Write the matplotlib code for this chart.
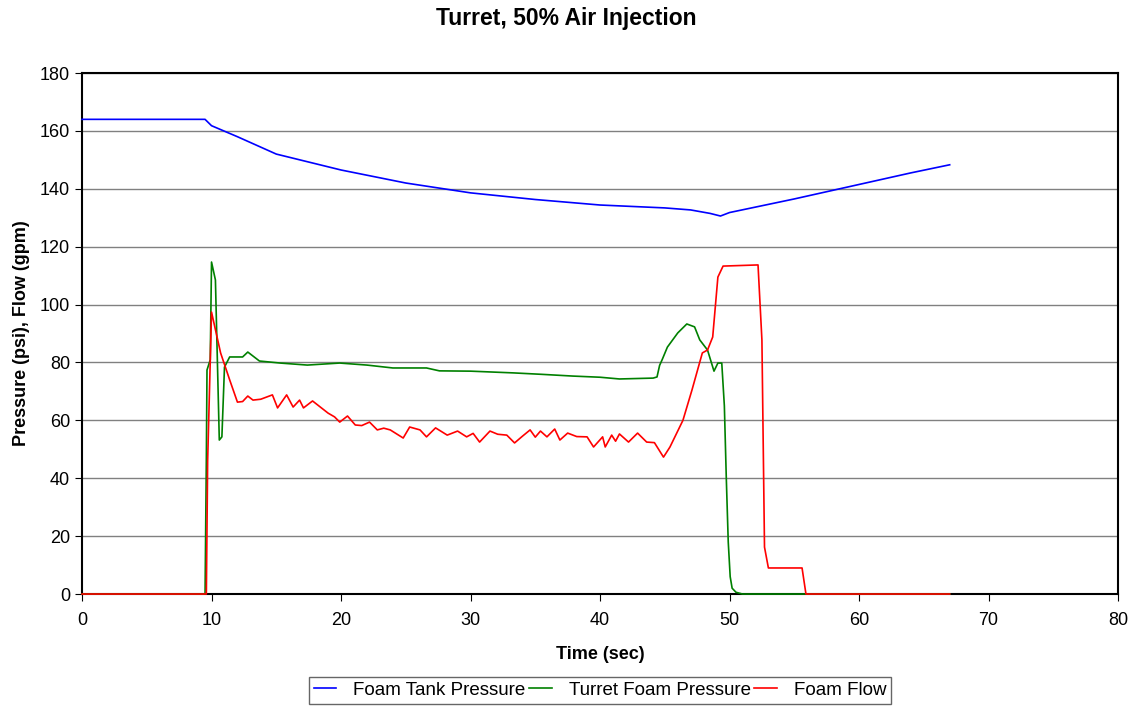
import matplotlib.pyplot as plt
from matplotlib import rcParams

rcParams.update({'font.family': ['Liberation Sans', 'DejaVu Sans'], 'font.size': 13})

# Foam Tank Pressure (psi)
tank_t = [0, 9.5, 10, 12, 15, 20, 25, 30, 35, 40, 45, 47, 48.5, 49.3, 50, 55, 60, 64, 67]
tank_p = [164, 164, 161.8, 158, 152, 146.5, 142, 138.6, 136.3, 134.4, 133.4, 132.7, 131.5, 130.6, 131.8, 136.5, 141.5, 145.5, 148.3]

# Turret Foam Pressure (psi)
turret_t = [0, 9.5, 9.6, 9.65, 9.9, 10.0, 10.3, 10.6, 10.8, 11.0, 11.4, 12.4, 12.8, 13.7, 15.3, 17.4, 19.9,
            22.0, 24.0, 26.6, 27.6, 30.0, 33.3, 35.5, 37.9, 40.0, 41.5, 44.1, 44.4, 44.6, 44.8, 45.2, 46.0,
            46.7, 47.3, 47.7, 48.3, 48.8, 49.1, 49.4, 49.6, 49.75, 49.9, 50.05, 50.2, 50.5, 51, 67]
turret_p = [0, 0, 47, 77.4, 80.9, 114.7, 108.5, 53.2, 54.3, 78.4, 81.9, 81.9, 83.6, 80.5, 79.8, 79.1, 79.8,
            79.1, 78.1, 78.1, 77.1, 77.0, 76.4, 75.9, 75.3, 74.9, 74.3, 74.6, 75, 79, 81, 85.3, 90.2,
            93.3, 92.3, 87.8, 84.3, 77, 79.8, 79.8, 65, 40, 18, 6, 2, 0.6, 0, 0]

# Foam Flow (gpm)
flow_t = [0, 9.6, 9.7, 10.0, 10.7, 11.4, 12.0, 12.4, 12.8, 13.2, 13.8, 14.7, 15.1, 15.8, 16.3, 16.8, 17.1,
          17.8, 18.4, 19.0, 19.5, 19.9, 20.5, 21.1, 21.6, 22.2, 22.8, 23.3, 23.8, 24.8, 25.3, 26.1, 26.6,
          27.3, 28.2, 29.0, 29.7, 30.2, 30.7, 31.5, 32.1, 32.8, 33.4, 34.0, 34.6, 35.0, 35.4, 35.9, 36.5,
          36.9, 37.5, 38.2, 39.0, 39.5, 40.2, 40.4, 40.9, 41.2, 41.5, 42.2, 42.9, 43.6, 44.2, 44.9, 45.4,
          46.4, 47.1, 47.9, 48.3, 48.7, 49.1, 49.5, 52.2, 52.5, 52.7, 53.0, 55.6, 55.9, 67]
flow_q = [0, 0, 46, 97.4, 83.3, 74, 66.3, 66.5, 68.4, 67, 67.3, 68.8, 64.3, 68.8, 64.6, 67, 64.3,
          66.7, 64.6, 62.5, 61.2, 59.4, 61.5, 58.4, 58.2, 59.4, 56.7, 57.3, 56.7, 53.9, 57.7, 56.7, 54.3,
          57.4, 54.9, 56.3, 54.3, 55.5, 52.5, 56.3, 55.2, 54.9, 52.2, 54.5, 56.7, 54.2, 56.3, 54.3, 57.0,
          53.2, 55.6, 54.4, 54.3, 50.8, 54.3, 50.8, 54.9, 52.8, 55.3, 52.5, 55.6, 52.5, 52.3, 47.3, 50.8,
          60, 70.5, 83.3, 84.3, 88.8, 109.5, 113.3, 113.7, 87.8, 16.2, 9, 9, 0, 0]

x_ticks = list(range(0, 81, 10))
y_ticks = list(range(0, 181, 20))

fig = plt.figure(figsize=(11.33, 7.07), dpi=100)
ax = fig.add_axes([0.0724, 0.1598, 0.9144, 0.7369])

ax.plot(tank_t, tank_p, color='#0000ff', lw=1.2, label='Foam Tank Pressure', zorder=3, clip_on=False)
ax.plot(turret_t, turret_p, color='#008000', lw=1.2, label='Turret Foam Pressure', zorder=3, clip_on=False)
ax.plot(flow_t, flow_q, color='#ff0000', lw=1.2, label='Foam Flow', zorder=3, clip_on=False)

ax.set_xlim(0, 80)
ax.set_ylim(0, 180)
ax.set_xticks(x_ticks)
ax.set_yticks(y_ticks)
ax.yaxis.grid(True, color='#808080', lw=1)
ax.set_axisbelow(True)
ax.tick_params(direction='out', length=5, labelsize=13, color='black')
ax.tick_params(axis='x', pad=8)
for s in ax.spines.values():
    s.set_linewidth(1.5)
    s.set_color('black')

ax.set_xlabel('Time (sec)', fontweight='bold', fontsize=13, labelpad=12)
ax.set_ylabel('Pressure (psi), Flow (gpm)', fontweight='bold', fontsize=13, labelpad=7)
fig.suptitle('Turret, 50% Air Injection', fontweight='bold', fontsize=16.5, y=0.99)

leg = fig.legend(loc='upper center', bbox_to_anchor=(600 / 1133, 1 - 677 / 707), ncol=3, fontsize=13.5,
                 frameon=True, fancybox=False, edgecolor='#404040', handlelength=1.2,
                 columnspacing=0.2, borderpad=0.25, handletextpad=0.9, borderaxespad=0)
leg.get_frame().set_linewidth(1)

plt.savefig('out.png', dpi=100)
